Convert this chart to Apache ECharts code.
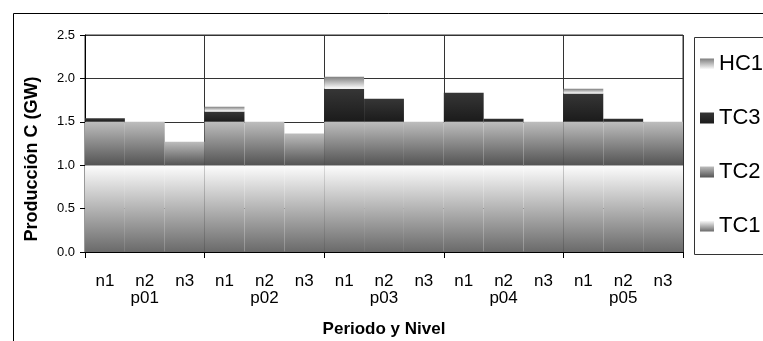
<!DOCTYPE html>
<html>
<head>
<meta charset="utf-8">
<script src="https://cdn.jsdelivr.net/npm/echarts@6/dist/echarts.min.js"></script>
<style>html,body{margin:0;padding:0;background:#fff;}#c{width:763px;height:341px;}</style>
</head>
<body>
<div id="c"></div>
<script>
var levels = ['n1','n2','n3','n1','n2','n3','n1','n2','n3','n1','n2','n3','n1','n2','n3'];
var periods = ['p01','p02','p03','p04','p05'];
var yTicks = [0, 0.5, 1.0, 1.5, 2.0, 2.5];
var TC1 = [1,1,1, 1,1,1, 1,1,1, 1,1,1, 1,1,1];
var TC2 = [0.5,0.5,0.27, 0.5,0.5,0.365, 0.5,0.5,0.5, 0.5,0.5,0.5, 0.5,0.5,0.5];
var TC3 = [0.04,0,0, 0.12,0,0, 0.38,0.265,0, 0.334,0.034,0, 0.326,0.034,0];
var HC1 = [0,0,0, 0.054,0,0, 0.14,0,0, 0,0,0, 0.054,0,0];

var FONT = "'Liberation Sans', Arial, sans-serif";
function grad(top, bottom) {
  return {type:'linear', x:0, y:0, x2:0, y2:1, colorStops:[{offset:0,color:top},{offset:1,color:bottom}]};
}
var styles = {
  TC1: grad('#fdfdfd', '#6a6a6a'),
  TC2: grad('#bdbdbd', '#545454'),
  TC3: grad('#363636', '#1b1b1b'),
  HC1: grad('#7e7e7e', '#ffffff')
};
function mk(name, data) {
  return {name:name, type:'bar', stack:'total', data:data, barCategoryGap:'0%', barGap:'0%',
    itemStyle:{color:styles[name]}, emphasis:{disabled:true}, animation:false};
}
var chart = echarts.init(document.getElementById('c'), null, {renderer:'canvas'});
chart.setOption({
  animation:false,
  textStyle:{fontFamily:FONT, color:'#000'},
  grid:{left:85, right:80, top:35, bottom:89, show:true, borderColor:'#333', borderWidth:1,
        backgroundColor:'transparent', containLabel:false, outerBoundsMode:'none'},
  legend:{
    data:['HC1','TC3','TC2','TC1'], orient:'vertical', left:700, top:53, padding:0,
    itemWidth:14, itemHeight:11, itemGap:32, icon:'rect',
    textStyle:{fontFamily:FONT, fontSize:22, color:'#000'}, selectedMode:false
  },
  xAxis:[
    {type:'category', data:levels, position:'bottom', boundaryGap:true,
     axisLine:{show:true, lineStyle:{color:'#000', width:1}},
     axisTick:{show:false}, splitLine:{show:false},
     axisLabel:{fontFamily:FONT, fontSize:17, color:'#000', margin:21, interval:0}},
    {type:'category', data:periods, position:'bottom', boundaryGap:true,
     axisLine:{show:false},
     axisTick:{show:true, length:6, lineStyle:{color:'#000'}},
     splitLine:{show:true, lineStyle:{color:'#333', width:1}},
     axisLabel:{fontFamily:FONT, fontSize:17, color:'#000', margin:38, interval:0},
     name:'Periodo y Nivel', nameLocation:'middle', nameGap:69,
     nameTextStyle:{fontFamily:FONT, fontSize:17, fontWeight:'bold', color:'#000'}}
  ],
  yAxis:{type:'value', min:yTicks[0], max:yTicks[yTicks.length-1], interval:0.5,
    axisLine:{show:true, lineStyle:{color:'#000'}},
    axisTick:{show:true, length:5, lineStyle:{color:'#000'}},
    splitLine:{show:true, lineStyle:{color:'#333', width:1}},
    axisLabel:{fontFamily:FONT, fontSize:13, color:'#000', margin:10, formatter:function(v){return v.toFixed(1);}}},
  graphic:[
    {type:'rect', left:11, top:11, shape:{x:0,y:0,width:800,height:400}, style:{fill:'none', stroke:'#000', lineWidth:1}, silent:true, z:-10},
    {type:'rect', left:692, top:35, shape:{x:0,y:0,width:100,height:217}, style:{fill:'none', stroke:'#333', lineWidth:1}, silent:true},
    {type:'text', x:32, y:159, rotation:Math.PI/2, style:{text:'Producción C (GW)', font:'bold 18px '+FONT, fill:'#000', align:'center', verticalAlign:'middle'}, silent:true}
  ],
  series:[mk('TC1',TC1), mk('TC2',TC2), mk('TC3',TC3), mk('HC1',HC1)]
});
</script>
</body>
</html>
